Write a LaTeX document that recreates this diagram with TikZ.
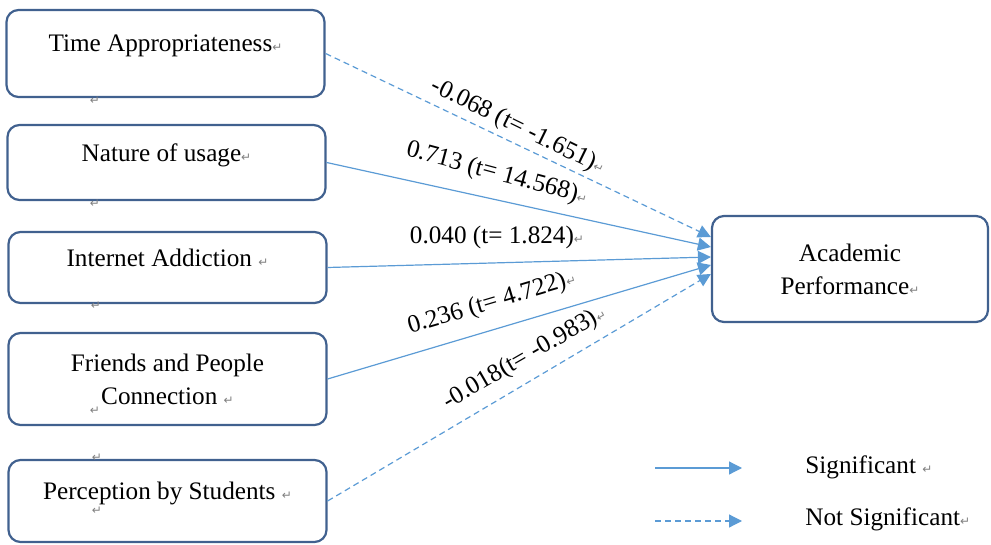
\documentclass[tikz,border=0pt]{standalone}
\usepackage{fontspec}
\setmainfont{Liberation Serif}
\newfontfamily\retfont{DejaVu Sans}
\usetikzlibrary{arrows.meta,calc}
\definecolor{boxblue}{HTML}{41618F}
\definecolor{lineblue}{HTML}{5B9BD5}
\newcommand{\ret}{{\retfont\fontsize{6}{6}\selectfont\textcolor{gray}{↵}}}
\tikzset{
  factor/.style={draw=boxblue, line width=1.1pt, rounded corners=6pt, align=center, minimum width=159pt, font=\fontsize{12.6}{16.5}\selectfont},
  oneline/.style={factor, text depth=10pt},
  sig/.style={lineblue, line width=0.6pt, -{Triangle[length=6.5pt,width=6.5pt]}},
  nsig/.style={sig, dash pattern=on 3pt off 2pt},
  coef/.style={font=\fontsize{12.6}{14}\selectfont, inner sep=0pt},
  retmark/.style={inner sep=0pt}
}
\begin{document}
\begin{tikzpicture}[x=0.5pt,y=-0.5pt]
        \useasboundingbox (0,0) rectangle (991,545);
        % boxes
        \node [oneline, minimum height=43.5pt] (ta) at (165.5,53.5) {Time Appropriateness\ret};
        \node [oneline, minimum height=37.5pt] (nu) at (166.5,162.5) {Nature of usage\ret};
        \node [oneline, minimum height=35.5pt] (ia) at (167.5,267.5) {Internet Addiction \ret};
        \node [factor, minimum height=46pt] (fp) at (167.5,379) {Friends and People\\Connection \ret};
        \node [oneline, minimum height=41pt] (ps) at (167.5,501) {Perception by Students \ret};
        \node [factor, minimum width=138pt, minimum height=53pt] (ap) at (850,269) {Academic\\Performance\ret};
        % arrows
        \draw [nsig] (ta.east) -- ($(ap.west)+(0,-32)$);
        \draw [sig] (nu.east) -- ($(ap.west)+(0,-22)$);
        \draw [sig] (ia.east) -- ($(ap.west)+(0,-12)$);
        \draw [sig] (fp.east) -- ($(ap.west)+(0,-4)$);
        \draw [nsig] (ps.east) -- ($(ap.west)+(0,5)$);
        % coefficients
        \node [coef, rotate=-26] (c1) at (518,127) {-0.068 (t= -1.651)\ret};
        \node [coef, rotate=-15] (c2) at (497,174) {0.713 (t= 14.568)\ret};
        \node [coef] (c3) at (497,237) {0.040 (t= 1.824)\ret};
        \node [coef, rotate=16.5] (c4) at (492,303) {0.236 (t= 4.722)\ret};
        \node [coef, rotate=30] (c5) at (525,358) {-0.018(t= -0.983)\ret};
        % legend
        \coordinate (s1) at (655,468);\coordinate (s2) at (742,468);
        \coordinate (n1) at (655,521);\coordinate (n2) at (742,521);
        \draw [sig] (s1) -- (s2);\draw [nsig] (n1) -- (n2);
        \node [coef, anchor=west] (sl) at (805,467) {Significant \ret};
        \node [coef, anchor=west] (nl) at (805,519) {Not Significant\ret};
        % stray marks
        \node [retmark] (r1) at (95,101) {\ret};\node [retmark] (r2) at (95,204) {\ret};
        \node [retmark] (r3) at (96,306) {\ret};\node [retmark] (r4) at (95,411) {\ret};
        \node [retmark] (r5) at (97,458) {\ret};\node [retmark] (r6) at (97,511) {\ret};
\end{tikzpicture}
\end{document}
